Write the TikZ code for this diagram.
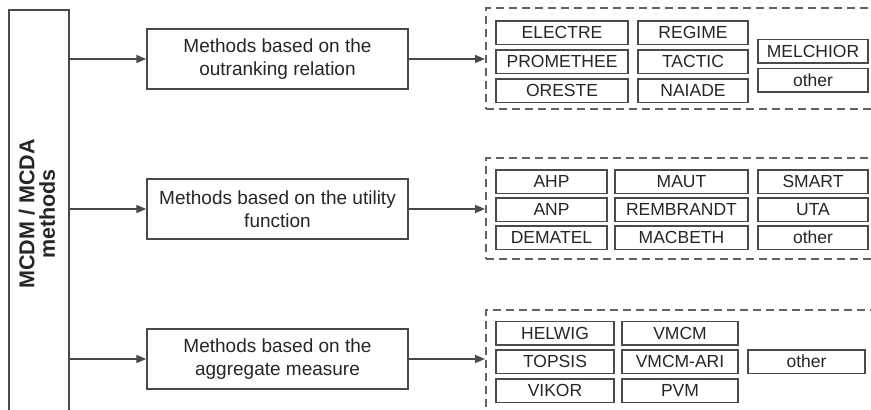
\documentclass[tikz,border=0pt]{standalone}
\usepackage{fontspec}
\setmainfont{Liberation Sans}
\usetikzlibrary{arrows.meta}
\definecolor{linegray}{HTML}{4A4A4A}
\definecolor{txtgray}{HTML}{262626}
\definecolor{dashgray}{HTML}{626262}

\begin{document}
\begin{tikzpicture}[x=1pt,y=-1pt,
  box/.style={draw=linegray, line width=1.5pt, fill=white, text=txtgray, inner sep=0pt, align=center},
  midbox/.style={box, minimum width=261pt, minimum height=60pt, font=\fontsize{19}{23}\selectfont},
  item/.style={box, minimum height=23.5pt, font=\fontsize{17.5}{20}\selectfont},
  group/.style={draw=dashgray, line width=1.5pt, dash pattern=on 8pt off 5pt, inner sep=0pt, anchor=north west, minimum width=420pt},
  arr/.style={draw=linegray, line width=1.5pt, -{Triangle[length=10pt,width=8pt]}},
]
\useasboundingbox (0,0) rectangle (871,410);
\fill[white] (0,0) rectangle (871,410);
\clip (0,0) rectangle (871,410);

% root box (runs past the lower edge)
\node[box, anchor=north west, minimum width=60pt, minimum height=430pt] (root) at (8,9) {};
\node[rotate=90, font=\bfseries\fontsize{21.5}{20.5}\selectfont, text=txtgray, align=center] (rootlabel) at (37,214) {MCDM / MCDA\\methods};

% method families
\node[midbox] (m1) at (277.5,59) {Methods based on the\\outranking relation};
\node[midbox] (m2) at (277.5,209) {Methods based on the utility\\function};
\node[midbox] (m3) at (277.5,359) {Methods based on the\\aggregate measure};

\foreach \m in {m1,m2,m3}
  \draw[arr] (root.east |- \m.west) -- (\m.west);

% dashed groups (open to the right)
\node[group, minimum height=101pt] (g1) at (485,7) {};
\node[group, minimum height=101pt] (g2) at (485,157) {};
\node[group, minimum height=150pt] (g3) at (485,309) {};

\draw[arr] (m1.east) -- (m1.east -| g1.west);
\draw[arr] (m2.east) -- (m2.east -| g2.west);
\draw[arr] (m3.east) -- (m3.east -| g3.west);

% outranking methods
\node[item, minimum width=132pt] (electre)   at (562,32.5) {ELECTRE};
\node[item, minimum width=132pt] (promethee) at (562,61.5) {PROMETHEE};
\node[item, minimum width=132pt] (oreste)    at (562,90.5) {ORESTE};
\node[item, minimum width=110pt] (regime)    at (693,32.5) {REGIME};
\node[item, minimum width=110pt] (tactic)    at (693,61.5) {TACTIC};
\node[item, minimum width=110pt] (naiade)    at (693,90.5) {NAIADE};
\node[item, minimum width=110pt] (melchior)  at (813,51) {MELCHIOR};
\node[item, minimum width=110pt] (otherA)    at (813,80) {other};

% utility-function methods
\node[item, minimum width=111pt] (ahp)       at (551.5,181.5) {AHP};
\node[item, minimum width=111pt] (anp)       at (551.5,209.5) {ANP};
\node[item, minimum width=111pt] (dematel)   at (551.5,237.5) {DEMATEL};
\node[item, minimum width=133pt] (maut)      at (681.5,181.5) {MAUT};
\node[item, minimum width=133pt] (rembrandt) at (681.5,209.5) {REMBRANDT};
\node[item, minimum width=133pt] (macbeth)   at (681.5,237.5) {MACBETH};
\node[item, minimum width=110pt] (smart)     at (813,181.5) {SMART};
\node[item, minimum width=110pt] (uta)       at (813,209.5) {UTA};
\node[item, minimum width=110pt] (otherB)    at (813,237.5) {other};

% aggregate-measure methods
\node[item, minimum width=118pt] (helwig)    at (555,333) {HELWIG};
\node[item, minimum width=118pt] (topsis)    at (555,361.5) {TOPSIS};
\node[item, minimum width=118pt] (vikor)     at (555,390.5) {VIKOR};
\node[item, minimum width=116pt] (vmcm)      at (680,333) {VMCM};
\node[item, minimum width=116pt] (vmcmari)   at (680,361.5) {VMCM-ARI};
\node[item, minimum width=116pt] (pvm)       at (680,390.5) {PVM};
\node[item, minimum width=117pt] (otherC)    at (806.5,361.5) {other};
\end{tikzpicture}
\end{document}
